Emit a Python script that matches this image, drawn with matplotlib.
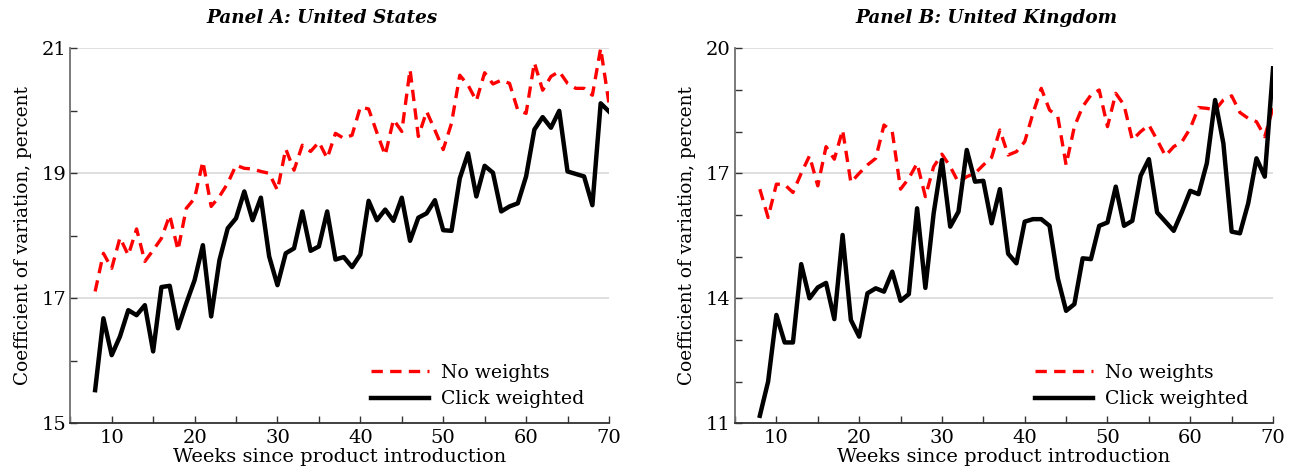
import matplotlib
matplotlib.use("Agg")
import matplotlib.pyplot as plt
from matplotlib.ticker import MultipleLocator, FixedLocator

plt.rcParams["font.family"] = ["DejaVu Serif"]

weeks = list(range(8, 71))

# Panel A: United States
us_no_weights = [
    17.11, 17.72, 17.48, 17.97, 17.69, 18.11, 17.59, 17.77, 17.96, 18.33,
    17.77, 18.44, 18.60, 19.19, 18.47, 18.63, 18.84, 19.13, 19.08, 19.07,
    19.03, 19.00, 18.73, 19.39, 19.05, 19.45, 19.35, 19.50, 19.24, 19.64,
    19.56, 19.61, 20.06, 20.03, 19.65, 19.29, 19.86, 19.67, 20.66, 19.59,
    19.99, 19.69, 19.38, 19.80, 20.57, 20.41, 20.16, 20.61, 20.43, 20.49,
    20.44, 20.01, 19.96, 20.77, 20.33, 20.55, 20.63, 20.44, 20.36, 20.36,
    20.25, 21.00, 20.12,
]
us_click_weighted = [
    15.53, 16.68, 16.09, 16.39, 16.81, 16.73, 16.89, 16.15, 17.18, 17.20,
    16.52, 16.92, 17.29, 17.85, 16.71, 17.61, 18.12, 18.28, 18.71, 18.25,
    18.61, 17.67, 17.21, 17.72, 17.80, 18.39, 17.76, 17.83, 18.39, 17.62,
    17.66, 17.50, 17.70, 18.56, 18.25, 18.42, 18.24, 18.61, 17.92, 18.29,
    18.36, 18.57, 18.09, 18.08, 18.92, 19.32, 18.63, 19.12, 19.01, 18.39,
    18.47, 18.52, 18.95, 19.70, 19.90, 19.73, 20.00, 19.03, 18.99, 18.95,
    18.49, 20.12, 19.99,
]

# Panel B: United Kingdom
uk_no_weights = [
    16.62, 15.94, 16.74, 16.73, 16.54, 17.00, 17.42, 16.70, 17.64, 17.34,
    18.04, 16.78, 17.00, 17.20, 17.36, 18.16, 18.00, 16.62, 16.88, 17.24,
    16.44, 17.16, 17.46, 17.16, 16.78, 16.92, 17.00, 17.20, 17.38, 18.04,
    17.44, 17.52, 17.76, 18.44, 19.04, 18.52, 18.36, 17.20, 18.12, 18.60,
    18.88, 19.00, 18.12, 18.92, 18.64, 17.80, 18.00, 18.16, 17.80, 17.42,
    17.64, 17.76, 18.08, 18.58, 18.56, 18.52, 18.76, 18.86, 18.46, 18.32,
    18.24, 17.88, 18.58,
]
uk_click_weighted = [
    11.18, 12.00, 13.60, 12.94, 12.94, 14.82, 14.00, 14.26, 14.37, 13.50,
    15.52, 13.48, 13.08, 14.12, 14.24, 14.16, 14.64, 13.94, 14.10, 16.16,
    14.25, 16.04, 17.32, 15.72, 16.08, 17.56, 16.80, 16.82, 15.80, 16.62,
    15.07, 14.84, 15.84, 15.90, 15.90, 15.74, 14.48, 13.70, 13.86, 14.96,
    14.94, 15.74, 15.82, 16.68, 15.74, 15.86, 16.94, 17.34, 16.06, 15.84,
    15.62, 16.08, 16.58, 16.50, 17.24, 18.76, 17.72, 15.60, 15.56, 16.28,
    17.36, 16.92, 19.52,
]

panels = [
    {
        "title": "Panel A: United States",
        "no_w": us_no_weights,
        "click": us_click_weighted,
        "ylim": (15, 21),
        "major": [15, 17, 19, 21],
        "rect": [0.0543, 0.107, 0.4163, 0.791],
    },
    {
        "title": "Panel B: United Kingdom",
        "no_w": uk_no_weights,
        "click": uk_click_weighted,
        "ylim": (11, 20),
        "major": [11, 14, 17, 20],
        "rect": [0.568, 0.107, 0.4158, 0.791],
    },
]

fig = plt.figure(figsize=(12.94, 4.74), dpi=100)
fs = 14

for p in panels:
    ax = fig.add_axes(p["rect"])
    ax.set_xlim(5, 70)
    ax.set_ylim(*p["ylim"])

    for y in p["major"]:
        ax.axhline(y, color="#dcdcdc", lw=1.3, zorder=0)

    ax.plot(weeks, p["no_w"], color="#ff0000", lw=2.4, ls=(0, (3.4, 2.2)),
            label="No weights", zorder=3)
    ax.plot(weeks, p["click"], color="black", lw=3.2, label="Click weighted",
            zorder=4)

    ax.xaxis.set_major_locator(FixedLocator([10, 20, 30, 40, 50, 60, 70]))
    ax.xaxis.set_minor_locator(MultipleLocator(5))
    ax.yaxis.set_major_locator(FixedLocator(p["major"]))
    ax.yaxis.set_minor_locator(MultipleLocator(1))

    ax.tick_params(which="both", direction="in", length=5, width=1,
                   color="#333333", labelsize=fs, pad=4)
    ax.tick_params(axis="y", which="both", pad=3)

    for side in ("top", "right"):
        ax.spines[side].set_visible(False)
    ax.spines["left"].set_color("#707070")
    ax.spines["left"].set_linewidth(1.3)
    ax.spines["bottom"].set_color("#333333")
    ax.spines["bottom"].set_linewidth(1.3)

    ax.set_xlabel("Weeks since product introduction", fontsize=fs, labelpad=1)
    ax.set_ylabel("Coefficient of variation, percent", fontsize=13.3,
                  labelpad=7)

    ax.text(0.467, 1.081, p["title"], transform=ax.transAxes, ha="center",
            va="center", fontsize=13.2, fontweight="bold", style="italic")

    ax.legend(loc="lower right", bbox_to_anchor=(0.985, -0.005),
              frameon=False, fontsize=13.6, handlelength=3.1,
              handletextpad=0.6, labelspacing=0.45)

fig.savefig("out.png", dpi=100)
